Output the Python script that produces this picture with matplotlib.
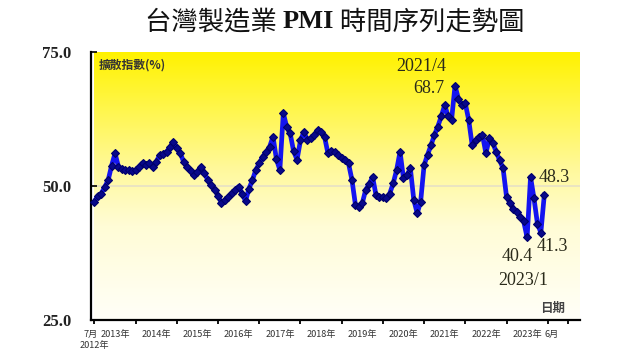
import numpy as np
import matplotlib
matplotlib.use('Agg')
import matplotlib.pyplot as plt
from matplotlib.colors import LinearSegmentedColormap

# ---- data (Taiwan manufacturing PMI, Jul 2012 - Jun 2023) ----
pmi_2012 = [47.1, 48.2, 48.6, 49.8, 51.1, 53.8]
pmi_2013 = [56.1, 53.6, 53.2, 53.0, 52.9, 52.8, 53.0, 53.6, 54.3, 54.0, 54.3, 53.6]
pmi_2014 = [54.5, 55.8, 56.0, 56.4, 57.2, 58.3, 57.0, 56.1, 54.5, 53.6, 52.8, 52.0]
pmi_2015 = [52.6, 53.6, 52.5, 51.1, 50.1, 49.3, 48.2, 46.8, 47.3, 48.0, 48.7, 49.3]
pmi_2016 = [49.9, 48.6, 47.2, 49.5, 51.1, 53.0, 54.2, 55.5, 56.3, 57.3, 59.2, 55.0]
pmi_2017 = [53.0, 63.6, 61.0, 59.8, 56.5, 54.9, 58.5, 60.1, 58.6, 58.9, 59.5, 60.4]
pmi_2018 = [60.0, 59.2, 56.1, 56.6, 56.4, 55.8, 55.2, 54.8, 54.2, 51.1, 46.5, 46.0]
pmi_2019 = [46.8, 49.3, 50.3, 51.7, 48.3, 48.0, 47.9, 47.7, 48.6, 50.5, 53.0, 56.4]
pmi_2020 = [51.4, 52.0, 53.3, 47.4, 44.9, 47.1, 53.9, 55.8, 57.6, 59.5, 61.1, 63.0]
pmi_2021 = [65.1, 63.0, 62.3, 68.7, 66.3, 65.1, 65.4, 62.3, 57.6, 58.5, 59.2, 59.5]
pmi_2022 = [56.1, 58.9, 58.0, 56.4, 54.8, 53.3, 48.0, 46.9, 45.8, 45.2, 44.3, 43.4]
pmi_2023 = [40.4, 51.7, 47.7, 43.0, 41.3, 48.3]

pmi = (pmi_2012 + pmi_2013 + pmi_2014 + pmi_2015 + pmi_2016 + pmi_2017 +
       pmi_2018 + pmi_2019 + pmi_2020 + pmi_2021 + pmi_2022 + pmi_2023)

# month index of tick labels (0 = 2012/7)
tick_pos = [-1.0, 6, 18, 30, 42, 54, 66, 78, 90, 102, 114, 126, 133]
tick_labels = ['7月', '2013年', '2014年', '2015年', '2016年', '2017年', '2018年',
               '2019年', '2020年', '2021年', '2022年', '2023年', '6月']
y_ticks = [25, 50, 75]
y_tick_labels = ['25.0', '50.0', '75.0']

title_parts = ['台灣製造業 ', 'PMI', ' 時間序列走勢圖']

plt.rcParams['font.family'] = ['Noto Sans CJK TC', 'DejaVu Sans']

fig = plt.figure(figsize=(6.4, 3.6), dpi=100)
fig.patch.set_facecolor('white')
ax = fig.add_axes([91 / 640, 40 / 360, 489 / 640, 268 / 360])

x = np.arange(len(pmi))
xmax = 141.4
ax.set_xlim(0, xmax)
ax.set_ylim(25, 75)

# gradient background
cmap = LinearSegmentedColormap.from_list(
    'yel', [(0.0, '#FFFFF8'), (0.35, '#FFFCD6'), (0.55, '#FFF9A0'),
            (0.8, '#FFF648'), (1.0, '#FFF200')])
grad = np.linspace(0, 1, 256).reshape(-1, 1)
ax.imshow(grad, cmap=cmap, origin='lower', aspect='auto',
          extent=[0, xmax, 25, 75], zorder=0)
ax.axhline(50, color='#E8E2C4', lw=1.3, zorder=1)

# series
ax.plot(x, pmi, color='#1414F0', lw=3.4, zorder=3, clip_on=False,
        solid_joinstyle='round')
ax.plot(x, pmi, ls='none', marker='D', markersize=4.4, color='#08088A',
        markeredgecolor='#00006A', markeredgewidth=0.8, zorder=4, clip_on=False)

# spines
for s in ['top', 'right']:
    ax.spines[s].set_visible(False)
for s in ['left', 'bottom']:
    ax.spines[s].set_linewidth(1.6)
    ax.spines[s].set_color('black')

ax.set_yticks(y_ticks)
ax.set_yticklabels(y_tick_labels, family='Liberation Serif', weight='bold',
                   fontsize=12, color='#222222')
ax.tick_params(axis='y', direction='in', length=4, width=1.2, pad=14)

ax.set_xticks(tick_pos)
ax.set_xticklabels(tick_labels, fontsize=6.6, color='#333333')
ax.tick_params(axis='x', which='major', length=0, pad=7)
ax.set_xticks(np.arange(0, 139, 6), minor=True)
ax.tick_params(axis='x', which='minor', direction='out', length=3, width=1.3)

ax.text(0, -0.097, '2012年', transform=ax.get_xaxis_transform(),
        ha='center', va='center', fontsize=6.6, color='#333333')

ax.text(0.015, 0.951, '擴散指數(%)', transform=ax.transAxes, ha='left',
        va='center', fontsize=8.5, weight='bold', color='#333333')
ax.text(0.943, 0.045, '日期', transform=ax.transAxes, ha='center',
        va='center', fontsize=9, weight='bold', color='#444444')

# annotations
ann = dict(textcoords='offset pixels', ha='center', va='center',
           family='Liberation Serif', fontsize=13, color='#2A2A1A')
i_peak = int(np.argmax(pmi))
ax.annotate('2021/4', xy=(i_peak, pmi[i_peak]), xytext=(-34, 19), **ann)
ax.annotate(f'{pmi[i_peak]:.1f}', xy=(i_peak, pmi[i_peak]), xytext=(-26, -3), **ann)
i_low = 126
ax.annotate(f'{pmi[i_low]:.1f}', xy=(i_low, pmi[i_low]), xytext=(-10, -19), **ann)
ax.annotate('2023/1', xy=(i_low, pmi[i_low]), xytext=(-4, -43), **ann)
ax.annotate(f'{pmi[130]:.1f}', xy=(130, pmi[130]), xytext=(12, -14), **ann)
ax.annotate(f'{pmi[131]:.1f}', xy=(131, pmi[131]), xytext=(10, 18), **ann)

# title in pieces (CJK sans + bold serif PMI)
renderer = fig.canvas.get_renderer()
fonts = [dict(family=['Noto Sans CJK TC'], weight='normal'),
         dict(family=['Liberation Serif'], weight='bold'),
         dict(family=['Noto Sans CJK TC'], weight='normal')]
texts = []
for part, f in zip(title_parts, fonts):
    t = fig.text(0, 1 - 22 / 360, part, fontsize=19, color='#111111',
                 va='center', ha='left', **f)
    texts.append(t)
widths = [t.get_window_extent(renderer).width for t in texts]
total = sum(widths)
start = 335 - total / 2
for t, w in zip(texts, widths):
    t.set_x(start / 640)
    start += w

fig.savefig('out.png', dpi=100)
